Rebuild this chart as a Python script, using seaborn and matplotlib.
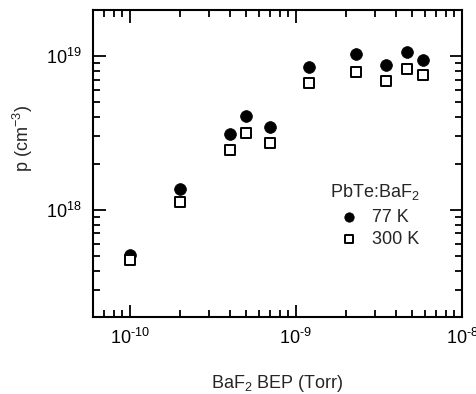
import matplotlib
matplotlib.use("Agg")
import numpy as np
import matplotlib.pyplot as plt
import pandas as pd
import seaborn as sns
from matplotlib.ticker import LogLocator, NullFormatter, FuncFormatter

# BaF2 beam equivalent pressure (Torr)
bep = [1.0e-10, 2.0e-10, 4.0e-10, 5.0e-10, 7.0e-10, 1.2e-9, 2.3e-9, 3.5e-9, 4.65e-9, 5.8e-9]
# hole concentration (cm^-3)
p_77k = [5.1e17, 1.36e18, 3.1e18, 4.05e18, 3.48e18, 8.5e18, 1.04e19, 8.75e18, 1.06e19, 9.5e18]
p_300k = [4.7e17, 1.12e18, 2.44e18, 3.18e18, 2.71e18, 6.72e18, 7.9e18, 6.9e18, 8.2e18, 7.5e18]

df = pd.DataFrame({
    "bep": bep * 2,
    "p": p_77k + p_300k,
    "T": ["77 K"] * len(bep) + ["300 K"] * len(bep),
})

sns.set_style("ticks")
plt.rcParams['font.family'] = ['Liberation Sans', 'DejaVu Sans']
plt.rcParams['mathtext.default'] = 'regular'
plt.rcParams['mathtext.fontset'] = 'custom'
plt.rcParams['mathtext.rm'] = 'Liberation Sans'
plt.rcParams['mathtext.it'] = 'Liberation Sans:italic'

W, H = 477, 394
fig = plt.figure(figsize=(W / 100, H / 100), dpi=100)
ax = fig.add_axes([93 / W, 1 - 317 / H, 369 / W, 307 / H])

sns.scatterplot(data=df[df["T"] == "77 K"], x="bep", y="p", ax=ax,
                marker="o", s=72, color="black", edgecolor="black", linewidth=0.5,
                label="77 K")
sns.scatterplot(data=df[df["T"] == "300 K"], x="bep", y="p", ax=ax,
                marker="s", s=48, facecolor="white", edgecolor="black", linewidth=1.4,
                label="300 K")

ax.set_xscale("log")
ax.set_yscale("log")
ax.set_xlim(6e-11, 1e-8)
ax.set_ylim(2e17, 2e19)


def pow10(v, pos):
    e = int(round(np.log10(v)))
    s = str(e).replace("-", "\u2010")
    return "$10^{" + s + "}$"


ax.xaxis.set_major_locator(LogLocator(base=10, numticks=10))
ax.xaxis.set_minor_locator(LogLocator(base=10, subs=range(2, 10), numticks=20))
ax.yaxis.set_major_locator(LogLocator(base=10, numticks=10))
ax.yaxis.set_minor_locator(LogLocator(base=10, subs=range(2, 10), numticks=20))
ax.xaxis.set_major_formatter(FuncFormatter(pow10))
ax.yaxis.set_major_formatter(FuncFormatter(pow10))
ax.xaxis.set_minor_formatter(NullFormatter())
ax.yaxis.set_minor_formatter(NullFormatter())

ax.tick_params(which="both", direction="in", top=True, right=True, width=1.3,
               labelsize=13, colors="black")
ax.tick_params(which="major", length=9, pad=8)
ax.tick_params(which="minor", length=5)
for sp in ax.spines.values():
    sp.set_linewidth(1.5)
    sp.set_color("black")

ax.set_xlabel("BaF$_2$ BEP (Torr)", fontsize=13, labelpad=18)
ax.set_ylabel("p (cm$^{-3}$)", fontsize=13)
ax.yaxis.set_label_coords(-0.157, 0.58)

# legend title placed as text so it sits left of the markers like the original
fig.text(330 / W, 1 - 192 / H, "PbTe:BaF$_2$", fontsize=13, ha="left", va="center")
leg = ax.legend(frameon=False, fontsize=13, loc="upper left",
                bbox_to_anchor=(340 / W, 1 - 209 / H), bbox_transform=fig.transFigure,
                handlelength=1.0, handletextpad=0.8, labelspacing=0.25,
                borderpad=0.0, borderaxespad=0.0, markerscale=0.8)

fig.savefig("out.png", dpi=100)
